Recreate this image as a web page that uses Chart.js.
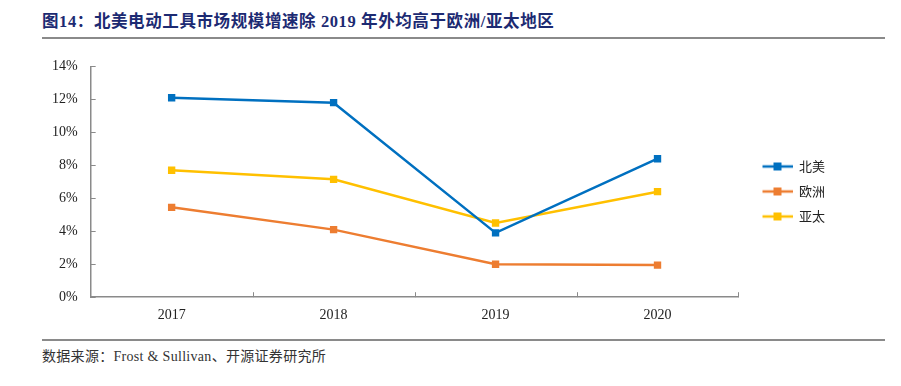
<!DOCTYPE html>
<html>
<head>
<meta charset="utf-8">
<script src="https://cdn.jsdelivr.net/npm/chart.js@4"></script>
<style>
  body { margin: 0; width: 901px; height: 386px; background: #fff; position: relative; overflow: hidden; }
  .title { position: absolute; left: 42px; top: 8px; font: bold 16.5px "Liberation Serif", "Noto Sans CJK SC", serif; color: #1C2A72; letter-spacing: 0.6px; white-space: nowrap; }
  .rule { position: absolute; left: 42px; width: 843px; height: 2px; background: #8a8a8a; }
  .source { position: absolute; left: 42px; top: 345px; font: 14px "Liberation Serif", "Noto Sans CJK SC", serif; color: #333; letter-spacing: 0.3px; white-space: nowrap; }
  .wrap { position: absolute; left: 0; top: 45px; width: 901px; height: 289px; }
</style>
</head>
<body>
<div class="title">图14：北美电动工具市场规模增速除 2019 年外均高于欧洲/亚太地区</div>
<div class="rule" style="top:37px"></div>
<div class="wrap"><canvas id="myChart"></canvas></div>
<div class="rule" style="top:339px"></div>
<div class="source">数据来源：Frost &amp; Sullivan、开源证券研究所</div>
<script>
const years = ["2017", "2018", "2019", "2020"];
const northAmerica = [12.1, 11.8, 3.9, 8.4];
const europe = [5.45, 4.1, 2.0, 1.95];
const asiaPacific = [7.7, 7.15, 4.5, 6.4];
const yTicks = [0, 2, 4, 6, 8, 10, 12, 14];

const serif = '"Liberation Serif", "Times New Roman", serif';

// legend marker: line with a square, left margin so text sits where the original has it
function legendIcon(color) {
    const c = document.createElement('canvas');
    c.width = 42; c.height = 12;
    const g = c.getContext('2d');
    g.strokeStyle = color;
    g.lineWidth = 2.5;
    g.beginPath(); g.moveTo(12, 6); g.lineTo(42, 6); g.stroke();
    g.fillStyle = color;
    g.fillRect(23, 2, 8, 8);
    return c;
}

// inward tick marks on both axes
const innerTicks = {
    id: 'innerTicks',
    afterDraw(chart) {
        const { ctx, scales: { x, y } } = chart;
        ctx.save();
        ctx.strokeStyle = '#8a8a8a';
        ctx.lineWidth = 1;
        ctx.beginPath();
        y.ticks.forEach((t, i) => {
            const py = Math.round(y.getPixelForTick(i)) + 0.5;
            ctx.moveTo(x.left, py); ctx.lineTo(x.left + 5, py);
        });
        for (let i = 1; i <= years.length; i++) {
            const px = Math.round(x.getPixelForValue(i - 0.5)) + 0.5;
            ctx.moveTo(px, y.bottom); ctx.lineTo(px, y.bottom - 5);
        }
        ctx.stroke();
        ctx.restore();
    }
};

const series = [
    { label: '北美', data: northAmerica, color: '#0070C0' },
    { label: '欧洲', data: europe, color: '#ED7D31' },
    { label: '亚太', data: asiaPacific, color: '#FFC000' },
];

new Chart(document.getElementById('myChart'), {
    type: 'line',
    data: {
        labels: years,
        datasets: series.map(s => ({
            label: s.label,
            data: s.data,
            borderColor: s.color,
            backgroundColor: s.color,
            borderWidth: 2.5,
            pointStyle: 'rect',
            pointRadius: 5.2,
            pointBorderWidth: 0,
            pointHoverRadius: 5.2,
            tension: 0,
            fill: false,
        }))
    },
    plugins: [innerTicks],
    options: {
        responsive: true,
        maintainAspectRatio: false,
        animation: false,
        layout: { padding: { top: 4, right: 66, left: 39, bottom: 0 } },
        plugins: {
            tooltip: { enabled: false },
            legend: {
                position: 'right',
                labels: {
                    usePointStyle: true,
                    pointStyleWidth: 42,
                    padding: 12,
                    color: '#222',
                    font: { family: '"Noto Sans CJK SC", sans-serif', size: 13 },
                    generateLabels(chart) {
                        return series.map((s, i) => ({
                            text: s.label,
                            pointStyle: legendIcon(s.color),
                            fillStyle: s.color,
                            strokeStyle: s.color,
                            lineWidth: 0,
                            datasetIndex: i,
                            fontColor: '#222',
                        }));
                    }
                }
            }
        },
        scales: {
            x: {
                offset: true,
                grid: { display: false, drawTicks: false },
                border: { color: '#8a8a8a', width: 1.5 },
                ticks: { color: '#222', padding: 10, font: { family: serif, size: 14 } }
            },
            y: {
                min: 0,
                max: 14,
                afterBuildTicks(axis) { axis.ticks = yTicks.map(v => ({ value: v })); },
                grid: { display: false, drawTicks: false },
                border: { color: '#8a8a8a', width: 1.5 },
                ticks: {
                    color: '#222',
                    padding: 13,
                    font: { family: serif, size: 14 },
                    callback: v => v + '%'
                }
            }
        }
    }
});
</script>
</body>
</html>
